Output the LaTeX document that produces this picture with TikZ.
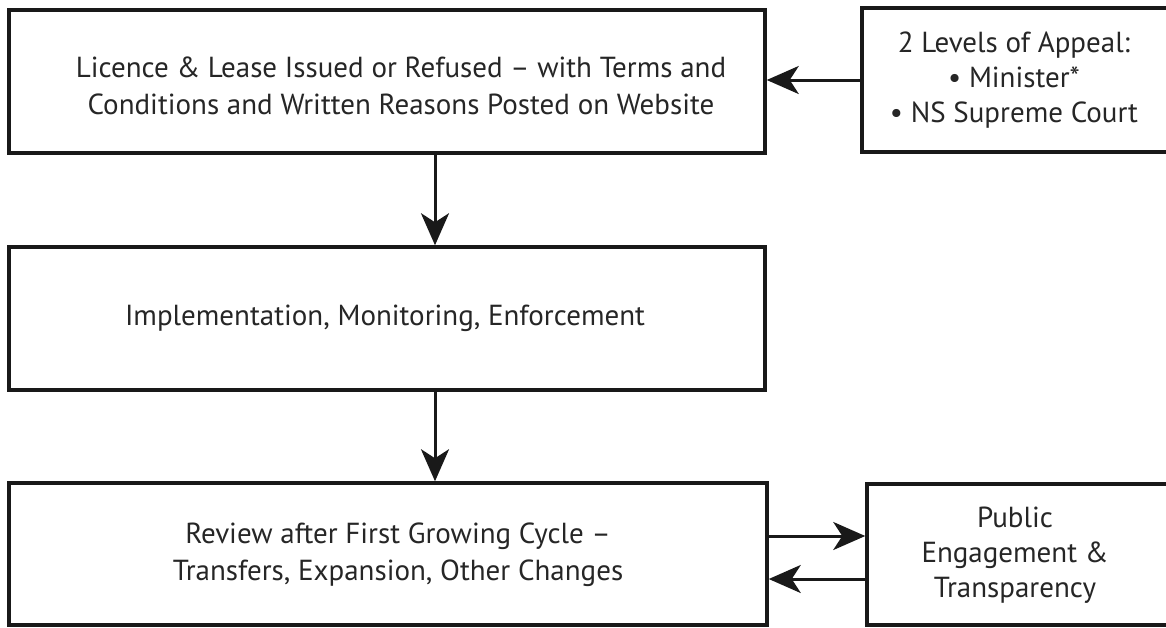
\documentclass[tikz,border=0pt]{standalone}
\usepackage{fontspec}
\setmainfont{PT Sans}
\usetikzlibrary{arrows.meta}
\begin{document}
\begin{tikzpicture}[x=1pt,y=-1pt,
  box/.style={draw=black!90, line width=3.5pt, rectangle, inner sep=0pt},
  txt/.style={align=center, font=\fontsize{29}{37}\selectfont, text=black!85},
  txtb/.style={align=center, font=\fontsize{29}{35}\selectfont, text=black!85},
  conn/.style={draw=black!90, line width=3pt, -{Stealth[length=32pt,width=28pt,inset=9pt]}}]
\useasboundingbox (0,0) rectangle (1166,627);
\fill[white] (0,0) rectangle (1166,627);
% boxes
\node[box, minimum width=756pt, minimum height=143pt] (b1) at (387,81.5) {};
\node[box, minimum width=310pt, minimum height=144pt] (ap) at (1017,80) {};
\node[box, minimum width=756pt, minimum height=143pt] (b3) at (387,318.5) {};
\node[box, minimum width=758pt, minimum height=142pt] (b4) at (388,554) {};
\node[box, minimum width=305pt, minimum height=141pt] (pe) at (1019.5,554.5) {};
% texts
\node[txt] (t1) at (401,86) {Licence \& Lease Issued or Refused – with Terms and\\Conditions and Written Reasons Posted on Website};
\node[txtb] (tap) at (1014,80) {2 Levels of Appeal:\\• Minister*\\• NS Supreme Court};
\node[txt] (t3) at (385,318) {Implementation, Monitoring, Enforcement};
\node[txt] (t4) at (398,555) {Review after First Growing Cycle –\\Transfers, Expansion, Other Changes};
\node[txtb] (tpe) at (1015,555) {Public\\Engagement \&\\Transparency};
% connectors
\draw[conn] (ap.west |- 0,80) -- (b1.east |- 0,80);
\draw[conn] (b1.south -| 435,0) -- (b3.north -| 435,0);
\draw[conn] (b3.south -| 435,0) -- (b4.north -| 435,0);
\draw[conn] (b4.east |- 0,536) -- (pe.west |- 0,536);
\draw[conn] (pe.west |- 0,579) -- (b4.east |- 0,579);
\end{tikzpicture}
\end{document}
